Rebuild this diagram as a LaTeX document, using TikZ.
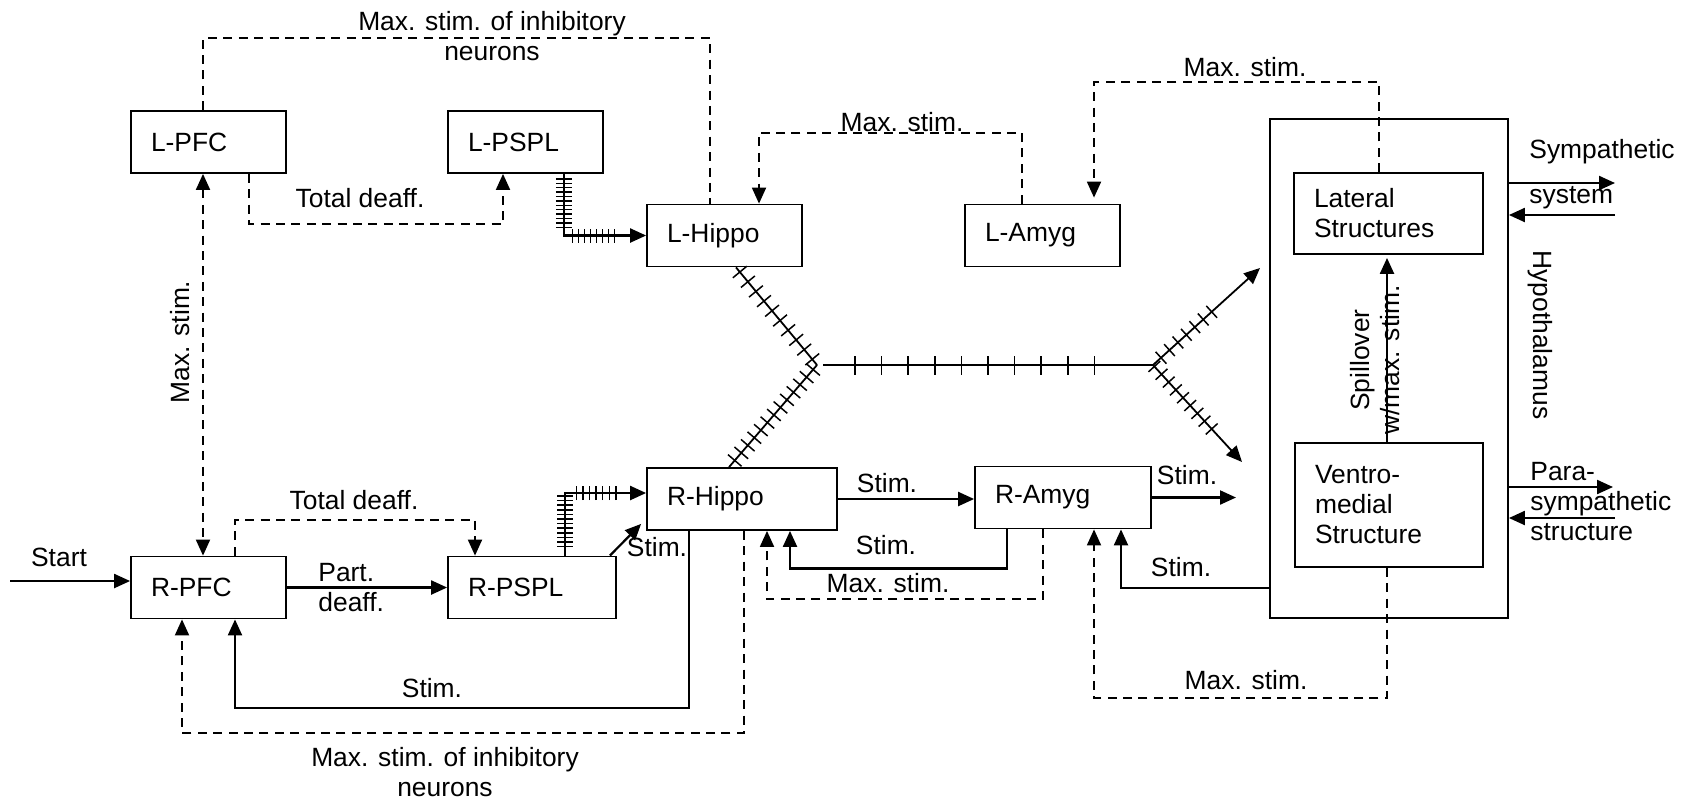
\documentclass[tikz,border=0pt]{standalone}
\usepackage{fontspec}
\setmainfont{Liberation Sans}
\usetikzlibrary{arrows.meta,decorations.markings}
\newcommand{\figfont}{\fontsize{13.2pt}{15pt}\selectfont}

\begin{document}
\begin{tikzpicture}[
    x=0.5pt, y=-0.5pt,
    every node/.style={font=\figfont},
    area/.style={draw, line width=0.9pt, minimum height=31pt,
      inner xsep=10pt, align=left, text width=#1},
    area/.default=57.5pt,
    note/.style={align=center, inner sep=1pt},
    link/.style={line width=1.1pt},
    ctrl/.style={line width=0.95pt, dash pattern=on 4.5pt off 3.2pt},
    net/.style={line width=0.9pt},
    arr/.style={-{Triangle[length=8pt,width=7pt]}},
    hatched/.style n args={4}{postaction={decorate, decoration={markings,
      mark=between positions #1 and #2 step #3 with
      {\draw[-, solid, line width=0.75pt] (0,-#4) -- (0,#4);}}}}
  ]
  \useasboundingbox (0,0) rectangle (1684,799);

  % Boxes: left side
  \node[area] (LPFC) at (208.5,142) {L-PFC};
  \node[area] (LPSPL) at (525.5,142) {L-PSPL};
  \node[area] (LHippo) at (724.5,235.5) {L-Hippo};
  \node[area] (LAmyg) at (1042.5,235.5) {L-Amyg};

  % Boxes: right side
  \node[area] (RPFC) at (208.5,587.5) {R-PFC};
  \node[area=64pt] (RPSPL) at (532,587.5) {R-PSPL};
  \node[area=75pt] (RHippo) at (742,499) {R-Hippo};
  \node[area=68pt] (RAmyg) at (1063,497.5) {R-Amyg};

  % Hypothalamus with its two structures
  \node[draw, line width=0.9pt, minimum width=119pt, minimum height=249.5pt] (Hypo) at (1389,368.5) {};
  \node[area=74.5pt, minimum height=40.5pt] (Lateral) at (1388.5,213.5) {Lateral\\Structures};
  \node[area=74pt, minimum height=62pt] (Ventro) at (1389,505) {Ventro-\\medial\\Structure};

  % Free ends
  \coordinate (start) at (10,581);
  \coordinate (symOut) at (1615,183);
  \coordinate (symIn) at (1615,215);
  \coordinate (parOut) at (1613,487);
  \coordinate (parIn) at (1615,518);
  \coordinate (amygOut) at (1236,498);
  \coordinate (J1) at (817,365);   % hippocampal junction
  \coordinate (F) at (1153,365);   % fork to hypothalamus
  \coordinate (toLat) at (1260,268);
  \coordinate (toVen) at (1242,462);

  % Dashed (max. stim.) connections
  \draw[ctrl] ([xshift=-2.75pt]LPFC.north) -- ++(0,-72) -| ([xshift=-7.25pt]LHippo.north);
  \draw[ctrl,arr] ([xshift=20.25pt]LPFC.south) -- ++(0,50) -| ([xshift=-11.25pt]LPSPL.south);
  \draw[ctrl,{Triangle[length=8pt,width=7pt]}-{Triangle[length=8pt,width=7pt]}]
    ([xshift=-2.75pt]LPFC.south) -- ([xshift=-2.75pt]RPFC.north);
  \draw[ctrl,arr] ([xshift=-10.25pt]LAmyg.north) -- ++(0,-71) -| ([xshift=17.25pt]LHippo.north);
  \draw[ctrl,arr,shorten >=3pt] ([xshift=-4.75pt]Lateral.north) -- ++(0,-90) -| ([xshift=25.75pt]LAmyg.north);
  \draw[ctrl,arr] ([xshift=13.25pt]RPFC.north) -- ++(0,-36) -| ([xshift=-28.5pt]RPSPL.north);
  \draw[ctrl,arr] ([xshift=1pt]RHippo.south) -- ++(0,202) -| ([xshift=-13.25pt]RPFC.south);
  \draw[ctrl,arr] ([xshift=-10pt]RAmyg.south) -- ++(0,70) -| ([xshift=12.5pt]RHippo.south);
  \draw[ctrl,arr] ([xshift=-1pt]Ventro.south) -- ++(0,130) -| ([xshift=15.5pt]RAmyg.south);

  % Solid (stim.) connections
  \draw[link,arr] (start) -- (start -| RPFC.west);
  \draw[link,arr] (RPFC.east) -- (RPSPL.west);
  \draw[link,arr] ([xshift=-3.5pt]RPSPL.north east) -- ([xshift=-2.5pt,yshift=3.5pt]RHippo.south west);
  \draw[link,arr] ([xshift=-26.5pt]RHippo.south) -- ++(0,177) -| ([xshift=13.25pt]RPFC.south);
  \draw[link,arr] (RHippo.east) -- (RHippo.east -| RAmyg.west);
  \draw[link,arr] ([xshift=-28pt]RAmyg.south) -- ++(0,39) -| ([xshift=24pt]RHippo.south);
  \draw[link,arr] (RAmyg.east) -- (RAmyg.east -| amygOut);
  \draw[link,arr] ([yshift=15.5pt]Hypo.south west) -| ([xshift=29pt]RAmyg.south);
  \draw[link,arr,shorten >=1.5pt] ([xshift=-1pt]Ventro.north) -- ([xshift=-1pt]Ventro.north |- Lateral.south);
  \draw[link,arr] (symOut -| Hypo.east) -- (symOut);
  \draw[link,arr] (symIn) -- (symIn -| Hypo.east);
  \draw[link,arr] (parOut -| Hypo.east) -- (parOut);
  \draw[link,arr] (parIn) -- (parIn -| Hypo.east);

  % Hatched pathways
  \draw[link,arr,hatched={2.5pt}{27pt}{2.2pt}{4pt},hatched={35pt}{56pt}{3pt}{3.5pt}]
    ([xshift=-20pt]LPSPL.south east) |- (LHippo.west);
  \draw[link,arr,hatched={4.5pt}{30pt}{2.3pt}{4pt},hatched={37pt}{57pt}{3.3pt}{3.5pt}]
    ([xshift=-26pt]RPSPL.north east) |- ([yshift=3pt]RHippo.west);
  \draw[net,hatched={3pt}{60pt}{6.3pt}{4.5pt}] ([xshift=5.75pt]LHippo.south) -- (J1);
  \draw[net,hatched={3pt}{63pt}{5pt}{4.5pt}] (J1) -- ([xshift=-6.5pt]RHippo.north);
  \draw[net,hatched={16pt}{149pt}{13.3pt}{4.75pt}] ([xshift=3pt]J1) -- (F);
  \draw[net,arr,hatched={5.4pt}{45pt}{5.7pt}{4pt}] (F) -- (toLat);
  \draw[net,arr,hatched={1pt}{43.6pt}{5.3pt}{4pt}] (F) -- (toVen);

  % Labels
  \node[note] at (492,36.5) {Max. stim. of inhibitory\\neurons};
  \node[note] at (360,198) {Total deaff.};
  \node[note, rotate=90] at (180,342) {Max. stim.};
  \node[note] at (902,122) {Max. stim.};
  \node[note] at (1245,67) {Max. stim.};
  \node[note, anchor=west] at (1527,152) {Sympathetic};
  \node[note, anchor=west] at (1527,198) {system};
  \node[note, rotate=-90] at (1540,335) {Hypothalamus};
  \node[note, rotate=90] at (1375,360) {Spillover\\w/max. stim.};
  \node[note] at (59,557) {Start};
  \node[note, anchor=west, align=left] at (316,588) {Part.\\deaff.};
  \node[note] at (354,500) {Total deaff.};
  \node[note] at (657,547) {Stim.};
  \node[note] at (887,483) {Stim.};
  \node[note] at (886,545) {Stim.};
  \node[note] at (888,583) {Max. stim.};
  \node[note] at (1187,475) {Stim.};
  \node[note] at (1181,567) {Stim.};
  \node[note] at (1246,680) {Max. stim.};
  \node[note] at (432,688) {Stim.};
  \node[note] at (445,772) {Max. stim. of inhibitory\\neurons};
  \node[note, anchor=west, align=left] at (1528,502) {Para-\\sympathetic\\structure};

\end{tikzpicture}
\end{document}
